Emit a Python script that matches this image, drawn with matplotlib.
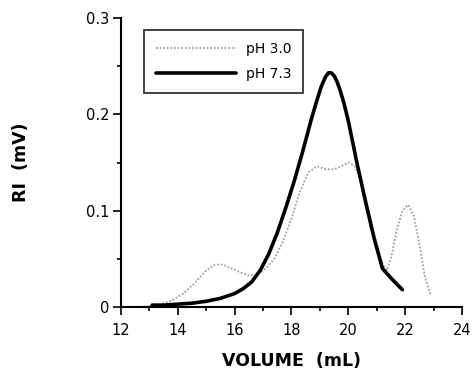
import matplotlib
matplotlib.use("Agg")
import matplotlib.pyplot as plt
from matplotlib.ticker import MultipleLocator

plt.rcParams['font.family'] = ['DejaVu Sans']

# pH 7.3 (solid black)
vol_73 = [13.1, 13.5, 14.0, 14.5, 15.0, 15.5, 16.0, 16.3, 16.6, 16.9, 17.2, 17.5, 17.8, 18.1,
          18.4, 18.7, 18.9, 19.05, 19.2, 19.3, 19.4, 19.5, 19.6, 19.7, 19.85, 20.0, 20.3, 20.6,
          20.9, 21.2, 21.5, 21.9]
ri_73 = [0.002, 0.002, 0.003, 0.004, 0.006, 0.009, 0.014, 0.019, 0.026, 0.038, 0.055, 0.077, 0.103,
         0.131, 0.162, 0.195, 0.215, 0.229, 0.239, 0.243, 0.243, 0.240, 0.234, 0.226, 0.211, 0.193,
         0.150, 0.110, 0.072, 0.040, 0.030, 0.018]

# pH 3.0 (dotted grey)
vol_30 = [12.2, 12.6, 13.0, 13.4, 13.8, 14.2, 14.6, 15.0, 15.3, 15.6, 15.9, 16.2, 16.5, 16.8,
          17.1, 17.4, 17.7, 18.0, 18.3, 18.6, 18.9, 19.2, 19.5, 19.8, 20.0, 20.2, 20.4, 20.6,
          20.8, 21.0, 21.2, 21.35, 21.5, 21.7, 21.9, 22.1, 22.3, 22.5, 22.7, 22.9]
ri_30 = [0.000, 0.000, 0.001, 0.003, 0.007, 0.014, 0.025, 0.038, 0.044, 0.044, 0.040, 0.036, 0.033,
         0.034, 0.040, 0.050, 0.068, 0.092, 0.120, 0.140, 0.146, 0.143, 0.143, 0.147, 0.150, 0.147,
         0.135, 0.115, 0.090, 0.065, 0.045, 0.038, 0.050, 0.080, 0.100, 0.106, 0.095, 0.065, 0.030,
         0.012]

x_ticks = [12, 14, 16, 18, 20, 22, 24]
y_ticks = [0, 0.1, 0.2, 0.3]
y_tick_labels = ['0', '0.1', '0.2', '0.3']

fig = plt.figure(figsize=(4.72, 3.74), dpi=100)
ax = fig.add_axes([0.256, 0.179, 0.723, 0.773])

ax.plot(vol_30, ri_30, color='#a0a0a0', linestyle=(0, (1, 1)), linewidth=1.3, label='pH 3.0')
ax.plot(vol_73, ri_73, color='black', linewidth=2.6, solid_capstyle='round',
        solid_joinstyle='round', label='pH 7.3')

ax.set_xlim(12, 24)
ax.set_ylim(0, 0.3)
ax.set_xticks(x_ticks)
ax.set_yticks(y_ticks)
ax.set_yticklabels(y_tick_labels)
ax.xaxis.set_minor_locator(MultipleLocator(1))
ax.yaxis.set_minor_locator(MultipleLocator(0.05))
ax.tick_params(which='both', direction='out', width=1.2, labelsize=10.5)
ax.tick_params(which='major', length=5.5)
ax.tick_params(which='minor', length=3)
ax.tick_params(axis='x', which='major', pad=6)
ax.tick_params(axis='y', which='major', pad=3)

for s in ['top', 'right']:
    ax.spines[s].set_visible(False)
for s in ['left', 'bottom']:
    ax.spines[s].set_linewidth(1.5)

ax.set_xlabel('VOLUME  (mL)', fontsize=12.5, fontweight='bold', labelpad=10)
ax.set_ylabel('RI  (mV)', fontsize=12.5, fontweight='bold', labelpad=40)

leg = ax.legend(loc='upper left', bbox_to_anchor=(0.067, 0.958), fontsize=10,
                handlelength=5.8, frameon=True, fancybox=False, edgecolor='black',
                borderpad=0.85, labelspacing=0.8, handletextpad=0.7, borderaxespad=0)
leg.get_frame().set_linewidth(1.3)

fig.savefig('out.png', dpi=100)
